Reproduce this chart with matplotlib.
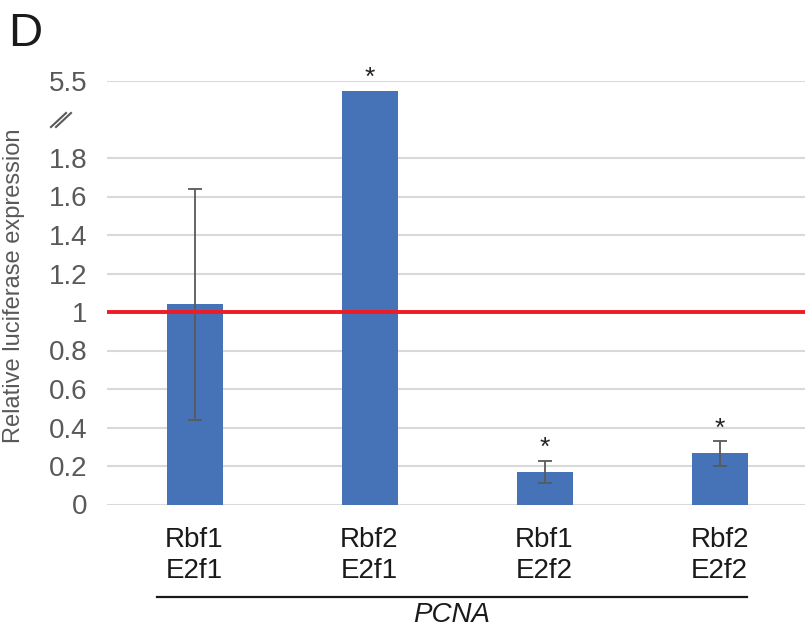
import matplotlib
matplotlib.use("Agg")
import matplotlib.pyplot as plt
from matplotlib.lines import Line2D

plt.rcParams['font.family'] = ['Liberation Sans', 'DejaVu Sans']

# ---- data ----
categories = ["Rbf1\nE2f1", "Rbf2\nE2f1", "Rbf1\nE2f2", "Rbf2\nE2f2"]
values = [1.04, 5.45, 0.17, 0.265]
errors = [0.60, 0.0, 0.058, 0.063]
significant = [False, True, True, True]
tick_values = [0, 0.2, 0.4, 0.6, 0.8, 1.0, 1.2, 1.4, 1.6, 1.8, 5.5]
tick_labels = ["0", "0.2", "0.4", "0.6", "0.8", "1", "1.2", "1.4", "1.6", "1.8", "5.5"]
group_label = "PCNA"
ylabel = "Relative luciferase expression"
panel = "D"

# broken-axis mapping: values above the break are shifted down
BREAK_LOW, BREAK_SHIFT = 1.9, 3.3
def to_disp(v):
    return v - BREAK_SHIFT if v > BREAK_LOW else v

W, H = 805, 635
fig = plt.figure(figsize=(W / 100, H / 100), dpi=100)
ax = fig.add_axes([107 / W, 1 - 504.5 / H, 700 / W, 423.5 / H])

x = list(range(len(categories)))
disp_vals = [to_disp(v) for v in values]
gray = "#595959"

ax.set_ylim(0, 2.2)
ax.set_xlim(-0.5, 3.5)

for t in tick_values:
    ax.axhline(to_disp(t), color="#d9d9d9", lw=1.5, zorder=0)

ax.bar(x, disp_vals, width=0.32, color="#4672b8", zorder=2)
for xi, v, e in zip(x, disp_vals, errors):
    if e > 0:
        ax.errorbar(xi, v, yerr=e, fmt="none", ecolor=gray, elinewidth=1.3,
                    capsize=5, capthick=1.3, zorder=3)

ax.axhline(1.0, color="#ee1c25", lw=2.8, zorder=4)

for xi, v, e, s in zip(x, disp_vals, errors, significant):
    if s:
        ax.text(xi, v + e + 0.065, "*", ha="center", va="center",
                fontsize=19, color="#222222", clip_on=False, zorder=5)

ax.set_yticks([to_disp(t) for t in tick_values])
ax.set_yticklabels(tick_labels, fontsize=20, color=gray)
ax.tick_params(axis="y", length=0, pad=14)
ax.set_xticks(x)
ax.set_xticklabels(categories, fontsize=20, color="#1a1a1a", linespacing=1.25)
ax.tick_params(axis="x", length=0, pad=16)
for sp in ax.spines.values():
    sp.set_visible(False)

fig.text(14 / W, 1 - 286 / H, ylabel, fontsize=17, color=gray,
         rotation=90, ha="center", va="center")

# axis break marks
for dx in (0, 5):
    fig.add_artist(Line2D([(51 + dx) / W, (66 + dx) / W],
                          [1 - 127 / H, 1 - 113 / H],
                          color=gray, lw=1.5))

# group line and label
fig.add_artist(Line2D([157 / W, 747 / W], [1 - 597 / H, 1 - 597 / H],
                      color="#1a1a1a", lw=1.6))
fig.text(452 / W, 1 - 615 / H, group_label, fontsize=20, style="italic",
         ha="center", va="center", color="#1a1a1a")

fig.text(8 / W, 1 - 34 / H, panel, fontsize=34, ha="left", va="center",
         color="#1a1a1a")

fig.savefig("out.png", dpi=100)
